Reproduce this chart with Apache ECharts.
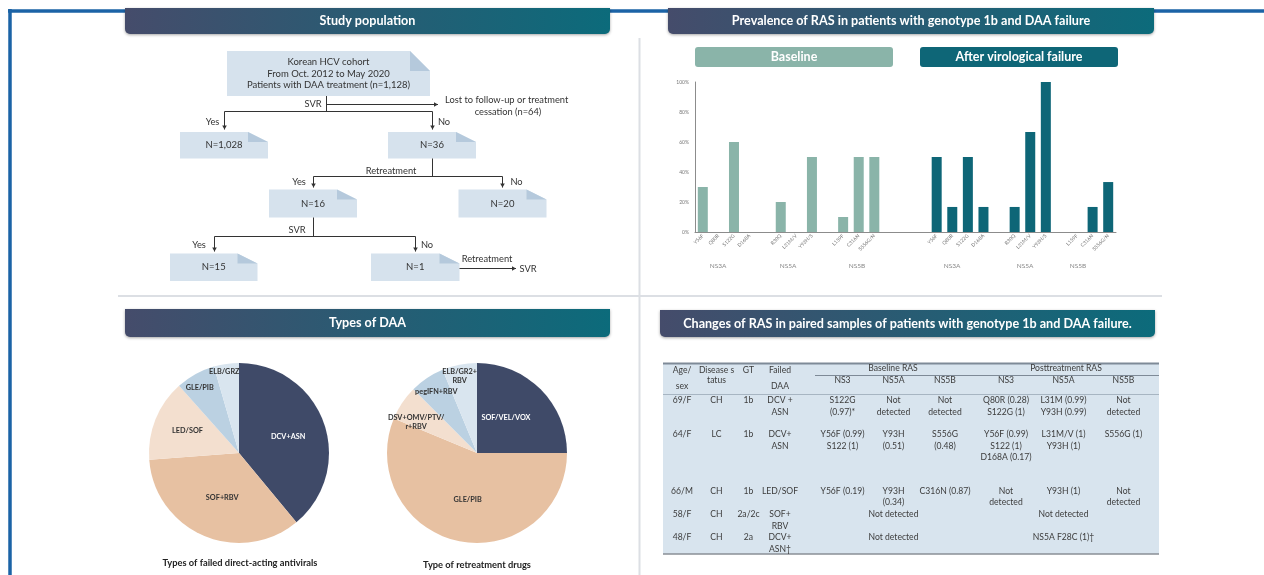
<!DOCTYPE html>
<html>
<head>
<meta charset="utf-8">
<script src="https://cdn.jsdelivr.net/npm/echarts@6.0.0/dist/echarts.min.js"></script>
<style>
  html, body { margin: 0; padding: 0; background: #fff; }
  #main { width: 1264px; height: 575px; }
</style>
</head>
<body>
<div id="main"></div>
<script>
// ---- data ----
const rasCategories = ['Y56F', 'Q80R', 'S122G', 'D168A', '', 'R30Q', 'L31M/V', 'Y93H/S', '', 'L159F', 'C316N', 'S556G/N',
  '', '', '',
  'Y56F', 'Q80R', 'S122G', 'D168A', '', 'R30Q', 'L31M/V', 'Y93H/S', '', 'L159F', 'C316N', 'S556G/N'];
const baselineValues = [30, 0, 60, 0, '-', 20, 0, 50, '-', 10, 50, 50,
  '-', '-', '-', '-', '-', '-', '-', '-', '-', '-', '-', '-', '-', '-', '-'];
const afterValues = ['-', '-', '-', '-', '-', '-', '-', '-', '-', '-', '-', '-', '-', '-', '-',
  50, 16.7, 50, 16.7, '-', 16.7, 66.7, 100, '-', 0, 16.7, 33.3];
const rasGroups = ['NS3A', 'NS5A', 'NS5B', 'NS3A', 'NS5A', 'NS5B'];
const yTicks = [0, 20, 40, 60, 80, 100];

const failedDaaNames = ['DCV+ASN', 'SOF+RBV', 'LED/SOF', 'GLE/PIB', 'ELB/GRZ'];
const failedDaaValues = [39, 34.8, 14.6, 7.1, 4.5];
const retreatNames = ['SOF/VEL/VOX', 'GLE/PIB', 'DSV+OMV/PTV/\nr+RBV', 'pegIFN+RBV', 'ELB/GR2+\nRBV'];
const retreatValues = [4, 9, 1, 1, 1];

const flowBoxes = [['Korean HCV cohort', 'From Oct. 2012 to May 2020', 'Patients with DAA treatment (n=1,128)'],
  ['N=1,028'], ['N=36'], ['N=16'], ['N=20'], ['N=15'], ['N=1']];

const tableHead1 = ['Age/', 'Disease s', 'GT', 'Failed'];
const tableHead2 = ['sex', 'tatus', '', 'DAA'];
const rasHeads = ['NS3', 'NS5A', 'NS5B', 'NS3', 'NS5A', 'NS5B'];
const tableRows = [
  ['69/F', 'CH', '1b', 'DCV +\nASN', 'S122G\n(0.97)*', 'Not\ndetected', 'Not\ndetected', 'Q80R (0.28)\nS122G (1)', 'L31M (0.99)\nY93H (0.99)', 'Not\ndetected'],
  ['64/F', 'LC', '1b', 'DCV+\nASN', 'Y56F (0.99)\nS122 (1)', 'Y93H\n(0.51)', 'S556G\n(0.48)', 'Y56F (0.99)\nS122 (1)\nD168A (0.17)', 'L31M/V (1)\nY93H (1)', 'S556G (1)'],
  ['66/M', 'CH', '1b', 'LED/SOF', 'Y56F (0.19)', 'Y93H\n(0.34)', 'C316N (0.87)', 'Not\ndetected', 'Y93H (1)', 'Not\ndetected'],
  ['58/F', 'CH', '2a/2c', 'SOF+\nRBV', '', 'Not detected', '', '', 'Not detected', ''],
  ['48/F', 'CH', '2a', 'DCV+\nASN\u2020', '', 'Not detected', '', '', 'NS5A F28C (1)\u2020', '']
];

// ---- drawing helpers ----
const FONT = 'Lato, "Open Sans", sans-serif';
const g = [];

function txt(x, y, text, o) {
  o = o || {};
  g.push({
    type: 'text', z: 20, silent: true,
    style: {
      x: x, y: y, text: text,
      fill: o.color || '#333',
      fontSize: o.size || 9.3,
      fontWeight: o.bold ? 'bold' : 'normal',
      fontFamily: FONT,
      align: o.align || 'center', textAlign: o.align || 'center',
      verticalAlign: o.valign || 'middle', textVerticalAlign: o.valign || 'middle',
      lineHeight: o.lh || undefined
    }
  });
}
function line(x1, y1, x2, y2, color, w) {
  g.push({ type: 'line', z: 5, silent: true, shape: { x1: x1, y1: y1, x2: x2, y2: y2 },
    style: { stroke: color || '#333', lineWidth: w || 1 } });
}
function arrow(x1, y1, x2, y2) {
  line(x1, y1, x2, y2);
  const len = Math.hypot(x2 - x1, y2 - y1);
  const ux = (x2 - x1) / len, uy = (y2 - y1) / len;
  const bx = x2 - ux * 4, by = y2 - uy * 4;
  g.push({ type: 'polygon', z: 6, silent: true,
    shape: { points: [[x2, y2], [bx - uy * 2.3, by + ux * 2.3], [bx + uy * 2.3, by - ux * 2.3]] },
    style: { fill: '#333' } });
}
function noteBox(x, y, w, h, fh, lines) {
  g.push({ type: 'polygon', z: 4, silent: true,
    shape: { points: [[x, y], [x + w - 20, y], [x + w, y + fh], [x + w, y + h], [x, y + h]] },
    style: { fill: '#d6e2ed' } });
  g.push({ type: 'polygon', z: 4, silent: true,
    shape: { points: [[x + w - 20, y], [x + w, y + fh], [x + w - 20, y + fh]] },
    style: { fill: '#b5c9dc' } });
  txt(x + w / 2, y + h / 2, lines.join('\n'), { size: 9.5, lh: 11.8 });
}
function banner(x, y, w, h, title) {
  g.push({ type: 'rect', z: 8, silent: true,
    shape: { x: x, y: y, width: w, height: h, r: [0, 0, 5, 5] },
    style: {
      fill: new echarts.graphic.LinearGradient(0, 0, 1, 0.3, [
        { offset: 0, color: '#454c6b' }, { offset: 1, color: '#0c6b7b' }]),
      shadowBlur: 3, shadowColor: 'rgba(0,0,0,0.35)', shadowOffsetY: 1
    } });
  txt(x + w / 2, y + h / 2, title, { color: '#fff', bold: true, size: 12.6 });
}

// frame and dividers
line(8, 11, 1264, 11, '#1b63a6', 3.5);
line(10, 9, 10, 575, '#1b63a6', 3.5);
line(639.5, 38, 639.5, 575, '#dcdfe4', 2);
line(118, 296, 1162, 296, '#dcdfe4', 2);

banner(125, 8, 485, 26, 'Study population');
banner(668, 8, 486, 26, 'Prevalence of RAS in patients with genotype 1b and DAA failure');
banner(125, 309, 485, 28, 'Types of DAA');
banner(660, 310, 495, 27, 'Changes of RAS in paired samples of patients with genotype 1b and DAA failure.');

// flowchart
noteBox(227, 51, 203, 45, 20, flowBoxes[0]);
noteBox(180, 132, 88, 26.5, 10, flowBoxes[1]);
noteBox(388, 132, 88, 26.5, 10, flowBoxes[2]);
noteBox(269, 189.5, 88, 28, 10, flowBoxes[3]);
noteBox(458.5, 189.5, 88, 28, 10, flowBoxes[4]);
noteBox(170, 253.5, 87.5, 27.5, 10, flowBoxes[5]);
noteBox(371, 253.5, 88.5, 27.5, 10, flowBoxes[6]);

line(326.5, 96, 326.5, 111.5);
arrow(326.5, 104.5, 438, 104.5);
line(224.5, 111.5, 432.5, 111.5);
arrow(224.5, 111.5, 224.5, 129.5);
arrow(432.5, 111.5, 432.5, 129.5);
line(432.5, 158.5, 432.5, 176.5);
line(313.5, 176.5, 502.5, 176.5);
arrow(313.5, 176.5, 313.5, 187.5);
arrow(502.5, 176.5, 502.5, 187.5);
line(313.5, 217.5, 313.5, 236.5);
line(214.5, 236.5, 415.5, 236.5);
arrow(214.5, 236.5, 214.5, 251.5);
arrow(415.5, 236.5, 415.5, 251.5);
arrow(459.5, 268.5, 516, 268.5);

txt(313, 104, 'SVR');
txt(445, 100, 'Lost to follow-up or treatment', { align: 'left' });
txt(508, 112, 'cessation (n=64)');
txt(212.5, 122, 'Yes');
txt(444, 122, 'No');
txt(391, 170.5, 'Retreatment');
txt(299, 181.5, 'Yes');
txt(516.5, 181.5, 'No');
txt(297, 230, 'SVR');
txt(199, 245, 'Yes');
txt(427, 245, 'No');
txt(487, 259, 'Retreatment');
txt(528, 268.5, 'SVR');

// bar chart legend boxes and group labels
g.push({ type: 'rect', z: 8, silent: true, shape: { x: 695, y: 47, width: 198, height: 20, r: 3 }, style: { fill: '#8ab4a9' } });
txt(794, 57, 'Baseline', { color: '#fff', bold: true, size: 12.5 });
g.push({ type: 'rect', z: 8, silent: true, shape: { x: 920, y: 47, width: 198, height: 20, r: 3 }, style: { fill: '#0e6677' } });
txt(1019, 57, 'After virological failure', { color: '#fff', bold: true, size: 12.5 });
const groupX = [718, 788, 857, 952, 1025, 1078];
rasGroups.forEach((n, i) => txt(groupX[i], 266, n, { color: '#888', size: 6.5 }));

// pie captions
txt(240, 563, 'Types of failed direct-acting antivirals', { bold: true, size: 9.3, color: '#222' });
txt(477, 565, 'Type of retreatment drugs', { bold: true, size: 9.3, color: '#222' });

// table
g.push({ type: 'rect', z: 2, silent: true, shape: { x: 663, y: 363, width: 496, height: 191 }, style: { fill: '#d8e4ee' } });
line(663, 363.5, 1159, 363.5, '#7e8a97', 2);
line(815, 375.5, 1159, 375.5, '#7e8a97', 1);
line(663, 394.5, 1159, 394.5, '#9aa8b6', 0.8);
line(663, 554, 1159, 554, '#8a8f96', 1.5);
const colX = [682, 716.5, 748.5, 780, 842.5, 893.5, 945, 1006, 1063.5, 1123.5];
const rowY = [400.5, 434.5, 491, 514.5, 537.5];
const tcol = '#3c3c3c';
const tsize = 8.6;
tableHead1.forEach((t, i) => txt(colX[i], 370, t, { size: tsize, color: tcol }));
txt(682, 386, tableHead2[0], { size: tsize, color: tcol });
txt(716.5, 380, tableHead2[1], { size: tsize, color: tcol });
txt(780, 386, tableHead2[3], { size: tsize, color: tcol });
txt(893, 368.5, 'Baseline RAS', { size: tsize, color: tcol });
txt(1066, 368.5, 'Posttreatment RAS', { size: tsize, color: tcol });
rasHeads.forEach((t, i) => txt(colX[i + 4], 380, t, { size: tsize, color: tcol }));
tableRows.forEach((row, r) => {
  row.forEach((cell, c) => {
    if (cell) txt(colX[c], rowY[r] - 5.75, cell, { size: tsize, color: tcol, valign: 'top', lh: 11.5 });
  });
});

// ---- chart ----
const pieColors = ['#3f4a68', '#e7c1a2', '#f3dfcf', '#bbd1e2', '#d9e5ef'];
const pie1Shift = [[4, 0], [2, 0], [-7, -4], [-16, -23], [-8, -34]];
const pie2Shift = [[-5, -1], [0, 0], [-21, -4], [-14, -21], [-8, -30]];

function pieData(names, values) {
  return names.map((n, i) => ({
    name: n, value: values[i],
    itemStyle: { color: pieColors[i] },
    label: { color: i === 0 ? '#fff' : '#333' }
  }));
}
function pieSeries(center, names, values, shift) {
  return {
    type: 'pie', center: center, radius: 90, startAngle: 90, clockwise: true,
    silent: true, animation: false,
    data: pieData(names, values),
    label: { position: 'inside', fontSize: 7.3, fontWeight: 'bold', fontFamily: FONT, lineHeight: 8.5 },
    labelLine: { show: false },
    labelLayout: p => ({ dx: shift[p.dataIndex][0], dy: shift[p.dataIndex][1] }),
    itemStyle: { borderWidth: 0 },
    emphasis: { disabled: true }
  };
}

const chart = echarts.init(document.getElementById('main'), null, { renderer: 'canvas' });
chart.setOption({
  animation: false,
  backgroundColor: '#fff',
  textStyle: { fontFamily: FONT },
  grid: { left: 695, top: 82, width: 421, height: 150 },
  xAxis: {
    type: 'category', data: rasCategories,
    axisLine: { lineStyle: { color: '#8c8c8c', width: 1 } },
    axisTick: { show: false },
    axisLabel: { interval: 0, rotate: 45, fontSize: 5, color: '#777', margin: 3 }
  },
  yAxis: {
    type: 'value', min: 0, max: 100, interval: 20,
    axisLine: { show: true, lineStyle: { color: '#8c8c8c', width: 1 } },
    axisTick: { show: false },
    splitLine: { show: false },
    axisLabel: { formatter: v => yTicks.includes(v) ? v + '%' : '', fontSize: 5, color: '#777', margin: 6 }
  },
  series: [
    { type: 'bar', data: baselineValues, barWidth: 10, barGap: '-100%', itemStyle: { color: '#8ab4a9' }, silent: true },
    { type: 'bar', data: afterValues, barWidth: 10, itemStyle: { color: '#0e6677' }, silent: true },
    pieSeries([239, 453], failedDaaNames, failedDaaValues, pie1Shift),
    pieSeries([477, 453], retreatNames, retreatValues, pie2Shift)
  ],
  graphic: { elements: g }
});
</script>
</body>
</html>
